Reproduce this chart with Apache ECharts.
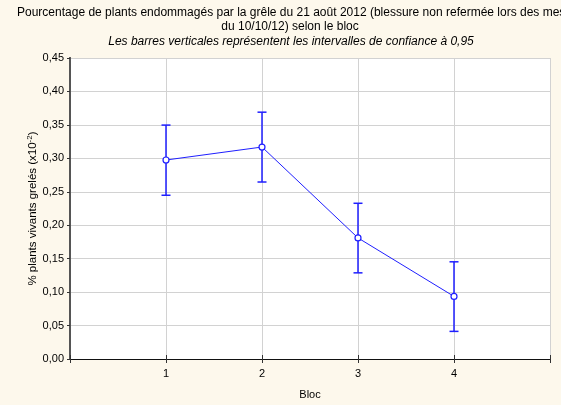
<!DOCTYPE html>
<html>
<head>
<meta charset="utf-8">
<script src="https://cdn.jsdelivr.net/npm/echarts@6/dist/echarts.min.js"></script>
<style>
  html, body { margin: 0; padding: 0; background: #ffffff; }
  #chart { width: 561px; height: 405px; background: #fdf8ec; }
</style>
</head>
<body>
<div id="chart"></div>
<script>
// Data
var blocs = [1, 2, 3, 4];
var means = [0.2975, 0.3169, 0.181, 0.0936];
var lowerCI = [0.2448, 0.2646, 0.1288, 0.0413];
var upperCI = [0.3497, 0.3690, 0.2328, 0.1453];

var titleLine1 = 'Pourcentage de plants endommagés par la grêle du 21 août 2012 (blessure non refermée lors des mesures';
var titleLine2 = 'du 10/10/12) selon le bloc';
var subtitle = 'Les barres verticales représentent les intervalles de confiance à 0,95';

var font = 'Arial, "Liberation Sans", sans-serif';
var blue = '#1f1fff';

var chart = echarts.init(document.getElementById('chart'), null, { renderer: 'canvas' });

var lineData = blocs.map(function (b, i) { return [b, means[i]]; });
var errData = blocs.map(function (b, i) { return [b, lowerCI[i], upperCI[i]]; });

function fmt(v) { return v.toFixed(2).replace('.', ','); }

var option = {
  backgroundColor: '#fdf8ec',
  animation: false,
  textStyle: { fontFamily: font },
  graphic: [
    { type: 'rect', shape: { x: 70, y: 58, width: 480, height: 302 }, style: { fill: '#ffffff' }, z: -10, silent: true },
    { type: 'text', x: 17, y: 13, style: { text: titleLine1, font: '12px ' + font, fill: '#000', textVerticalAlign: 'middle' } },
    { type: 'text', x: 290, y: 27, style: { text: titleLine2, font: '12px ' + font, fill: '#000', textAlign: 'center', textVerticalAlign: 'middle' } },
    { type: 'text', x: 291, y: 42, style: { text: subtitle, font: 'italic 12px ' + font, fill: '#000', textAlign: 'center', textVerticalAlign: 'middle' } }
  ],
  grid: { left: 70, right: 11, top: 58, bottom: 45, containLabel: false },
  xAxis: [{
    type: 'value',
    min: 0, max: 5, interval: 1,
    name: 'Bloc', nameLocation: 'middle', nameGap: 30,
    nameTextStyle: { fontSize: 11, color: '#000', fontFamily: font },
    axisLine: { show: true, lineStyle: { color: '#111', width: 1 } },
    axisTick: { show: true, inside: true, length: 4, lineStyle: { color: '#333' } },
    axisLabel: {
      fontSize: 11, color: '#000', margin: 9, fontFamily: font,
      formatter: function (v) { return (v >= 1 && v <= 4) ? String(v) : ''; }
    },
    splitLine: { show: true, lineStyle: { color: '#d2d2d2', width: 1 } }
  }, {
    type: 'value', position: 'top',
    min: 0, max: 5, interval: 1,
    axisLine: { show: true, lineStyle: { color: '#111', width: 1 } },
    axisTick: { show: true, inside: true, length: 4, lineStyle: { color: '#333' } },
    axisLabel: { show: false },
    splitLine: { show: false }
  }],
  yAxis: [{
    type: 'value',
    min: 0, max: 0.45, interval: 0.05,
    name: '% plants vivants grelés (x10{sup|-2})',
    nameLocation: 'middle', nameGap: 30, nameRotate: 90,
    nameMoveOverlap: false,
    nameTextStyle: {
      fontSize: 11.5, color: '#000', fontFamily: font,
      rich: { sup: { fontSize: 8, verticalAlign: 'top', padding: [0, 0, 6, 0], fontFamily: font } }
    },
    axisLine: { show: true, lineStyle: { color: '#444', width: 2 } },
    axisTick: { show: true, inside: false, length: 3, lineStyle: { color: '#333' } },
    axisLabel: { fontSize: 11, color: '#000', margin: 6, fontFamily: font, formatter: fmt },
    splitLine: { show: true, lineStyle: { color: '#d2d2d2', width: 1 } }
  }, {
    type: 'value', position: 'right',
    min: 0, max: 0.45, interval: 0.05,
    axisLine: { show: true, lineStyle: { color: '#555', width: 2 } },
    axisTick: { show: true, inside: true, length: 3, lineStyle: { color: '#333' } },
    axisLabel: { show: false },
    splitLine: { show: false }
  }],
  series: [{
    type: 'custom',
    xAxisIndex: 0, yAxisIndex: 0,
    data: errData,
    z: 3,
    renderItem: function (params, api) {
      var x = api.value(0);
      var lo = api.coord([x, api.value(1)]);
      var hi = api.coord([x, api.value(2)]);
      var hw = 4.5;
      var style = { stroke: blue, lineWidth: 1.5, fill: null };
      return {
        type: 'group',
        children: [
          { type: 'line', shape: { x1: hi[0], y1: hi[1], x2: lo[0], y2: lo[1] }, style: style },
          { type: 'line', shape: { x1: hi[0] - hw, y1: hi[1], x2: hi[0] + hw, y2: hi[1] }, style: style },
          { type: 'line', shape: { x1: lo[0] - hw, y1: lo[1], x2: lo[0] + hw, y2: lo[1] }, style: style }
        ]
      };
    }
  }, {
    type: 'line',
    xAxisIndex: 0, yAxisIndex: 0,
    data: lineData,
    z: 4,
    symbol: 'circle', symbolSize: 6,
    lineStyle: { color: blue, width: 1 },
    itemStyle: { color: '#ffffff', borderColor: blue, borderWidth: 1.2 }
  }]
};

chart.setOption(option);
</script>
</body>
</html>
